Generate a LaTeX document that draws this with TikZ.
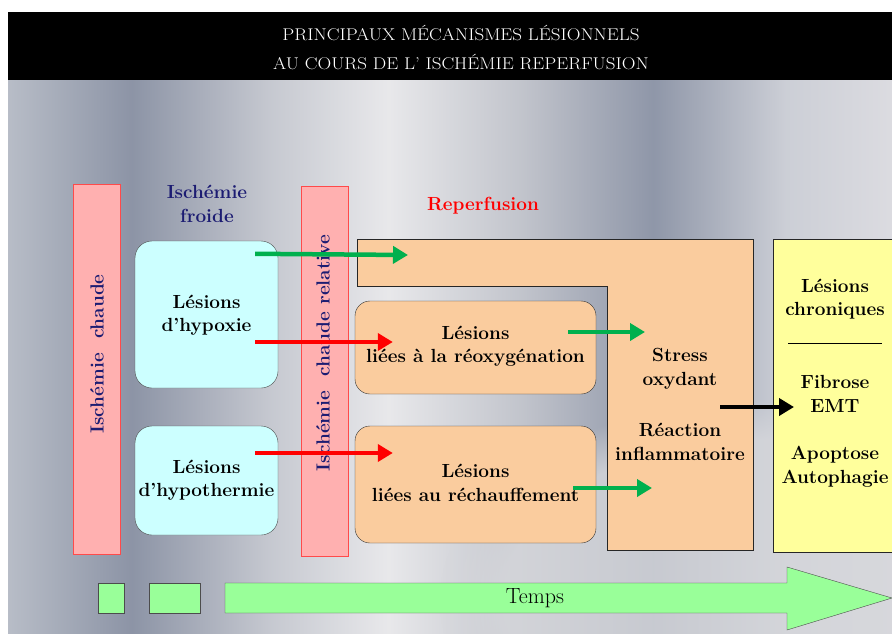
\documentclass[tikz,border=0pt]{standalone}
\usepackage{fontspec}
\usetikzlibrary{arrows.meta,calc,fadings}

\definecolor{barpink}{HTML}{FFB0B0}
\definecolor{barline}{HTML}{FF4A4A}
\definecolor{hypocyan}{HTML}{CCFFFF}
\definecolor{peach}{HTML}{FACC9E}
\definecolor{chronyel}{HTML}{FFFF9C}
\definecolor{timegreen}{HTML}{99FF99}
\definecolor{navytxt}{HTML}{1C1C72}
\definecolor{arrgreen}{HTML}{00B04E}
\definecolor{metallight}{HTML}{D6D7DB}

\pgfdeclarehorizontalshading{metal}{100bp}{rgb(0bp)=(0.72,0.74,0.78); rgb(25bp)=(0.72,0.74,0.78);
  rgb(32bp)=(0.55,0.58,0.65); rgb(40bp)=(0.78,0.79,0.82); rgb(46.5bp)=(0.91,0.91,0.92);
  rgb(54bp)=(0.76,0.77,0.80); rgb(61.5bp)=(0.56,0.59,0.66); rgb(69bp)=(0.80,0.81,0.84);
  rgb(75bp)=(0.86,0.86,0.88); rgb(100bp)=(0.86,0.86,0.88)}

\begin{document}
\begin{tikzpicture}[x=1pt,y=-1pt,
  bold/.style={font=\fontsize{19}{23.5}\selectfont\bfseries,align=center},
  ischbar/.style={draw=barline,fill=barpink,line width=0.8pt,minimum width=47,minimum height=370},
  coldbox/.style={draw=black!70,fill=hypocyan,rounded corners=17pt,minimum width=143,inner sep=1pt},
  reperfbox/.style={draw=black!80,fill=peach,rounded corners=15pt,minimum width=241},
  flow/.style={line width=4.5pt,-{Triangle[length=15pt,width=17pt]}},
  tbox/.style={draw=black!70,fill=timegreen,minimum height=30}]
\useasboundingbox (0,0) rectangle (892,634);
\begin{scope}
\clip (8,80) rectangle (892,634);
\shade[shading=metal] (8,80) rectangle (892,634);
\fill[metallight,opacity=0.8,path fading=circle with fuzzy edge 20 percent] (440,400) rectangle (1080,800);
\end{scope}
\fill[black] (8,12) rectangle (892,80);
\node[text=white,align=center,font=\fontsize{17}{29}\selectfont,xscale=1.12] (titre) at (461,47.5)
  {PRINCIPAUX MÉCANISMES LÉSIONNELS\\AU COURS DE L’ ISCHÉMIE REPERFUSION};

% ischemie chaude / froide
\node[ischbar] (chaude) at (97,369) {};
\node[bold,text=navytxt,rotate=90] (chaudetxt) at (97,354) {Ischémie\ \ chaude};
\node[bold,text=navytxt] (froide) at (207,204) {Ischémie\\froide};
\node[coldbox,minimum height=147] (hypoxie) at (206.5,314.5) {};
\node[bold] (hypoxietxt) at (206.5,315) {Lésions\\d’hypoxie};
\node[coldbox,minimum height=109] (hypotherm) at (206.5,480.5) {};
\node[bold] (hypothermtxt) at (206.5,480) {Lésions\\d’hypothermie};
\node[ischbar] (relative) at (325,371) {};
\node[bold,text=navytxt,rotate=90] (relativetxt) at (323,353) {Ischémie\ \ chaude relative};

% reperfusion
\node[bold,text=red] (reperf) at (483,206) {Reperfusion};
\draw[black!85,fill=peach] (357,239) -- (753,239) -- (753,550) -- (607,550) -- (607,286)
  -- (357,286) -- cycle;
\node[reperfbox,minimum height=93] (reox) at (475.5,347.5) {};
\node[bold] (reoxtxt) at (475.5,346) {Lésions\\liées à la réoxygénation};
\node[reperfbox,minimum height=117] (rech) at (475.5,484.5) {};
\node[bold] (rechtxt) at (475.5,483) {Lésions\\liées au réchauffement};
\node[bold] (stress) at (680,369) {Stress\\oxydant};
\node[bold] (inflam) at (680,442) {Réaction\\inflammatoire};

% lesions chroniques
\node[draw=black!85,fill=chronyel,minimum width=127,minimum height=313] (chron) at (836.5,395.5) {};
\node[bold] (chrontxt) at (835,299) {Lésions\\chroniques};
\draw[black,line width=0.6pt] (788,343) -- (882,343);
\node[bold] (fibrose) at (835,394) {Fibrose\\EMT};
\node[bold] (apopt) at (835,467) {Apoptose\\Autophagie};

% fleches
\coordinate (oxtop) at (408,255);
\coordinate (ox1) at (645,332);
\coordinate (ox2) at (652,488);
\coordinate (fib) at (794,407);
\draw[flow,arrgreen] ([xshift=-23pt,yshift=-13pt]hypoxie.north east) -- (oxtop);
\draw[flow,red] ([xshift=-23pt,yshift=-27.5pt]hypoxie.east) -- ([xshift=38pt,yshift=5.5pt]reox.west);
\draw[flow,red] ([xshift=-23pt,yshift=27.5pt]hypotherm.east) -- ([xshift=38pt,yshift=31.5pt]rech.west);
\draw[flow,arrgreen] ([xshift=-28pt,yshift=15.5pt]reox.east) -- (ox1);
\draw[flow,arrgreen] ([xshift=-23pt,yshift=-3.5pt]rech.east) -- (ox2);
\draw[flow,black] (720,407) -- (fib);

% temps
\node[tbox,minimum width=26] (t1) at (111,598) {};
\node[tbox,minimum width=51] (t2) at (174.5,598) {};
\draw[black!70,fill=timegreen] (225,583) -- (787,583) -- (787,567) -- (892,598) -- (787,630)
  -- (787,613) -- (225,613) -- cycle;
\node[font=\fontsize{22}{24}\selectfont] (temps) at (535,598) {Temps};
\end{tikzpicture}
\end{document}
